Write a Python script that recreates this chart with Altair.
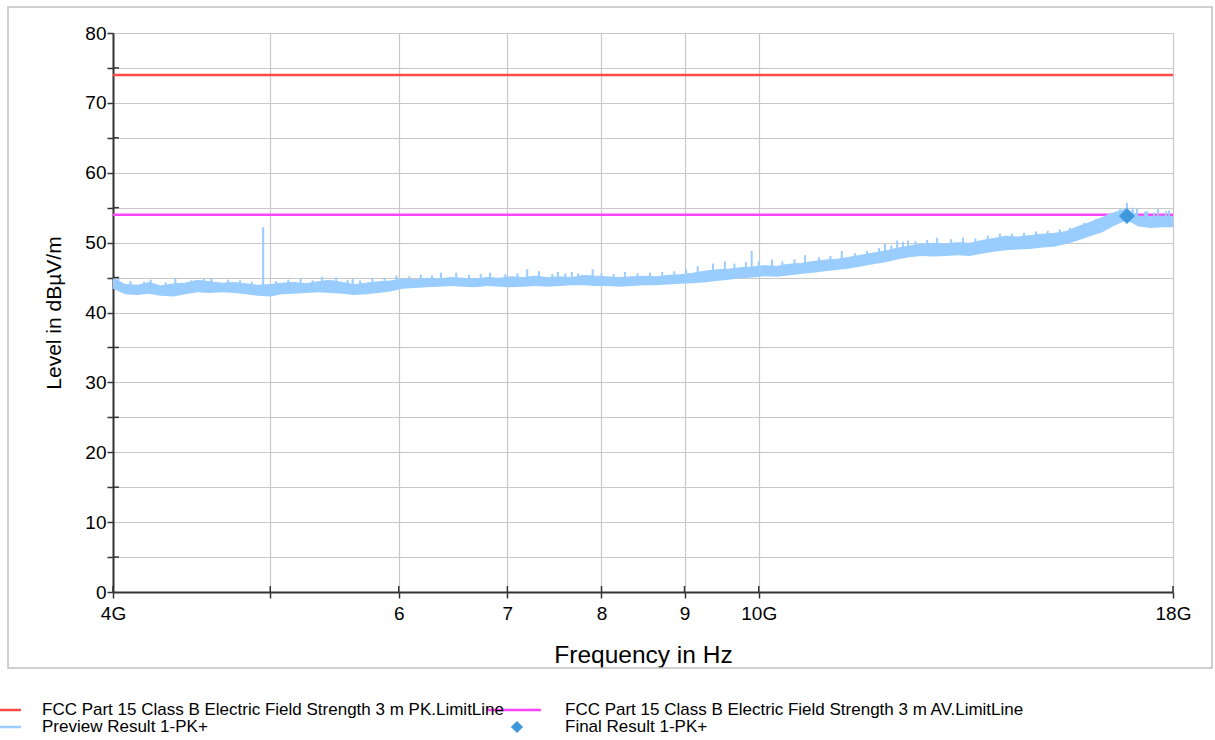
import altair as alt
import pandas as pd

# ---- data ----
freq_ghz = [4.00, 4.07, 4.14, 4.21, 4.28, 4.36, 4.43, 4.51, 4.59, 4.67, 4.75, 4.83, 4.91,
            5.00, 5.08, 5.17, 5.26, 5.35, 5.44, 5.54, 5.63, 5.73, 5.83, 5.93, 6.03, 6.14,
            6.24, 6.35, 6.46, 6.57, 6.69, 6.80, 6.92, 7.04, 7.16, 7.28, 7.41, 7.54, 7.67,
            7.80, 7.93, 8.07, 8.21, 8.35, 8.50, 8.64, 8.79, 8.94, 9.10, 9.25, 9.41, 9.58,
            9.74, 9.91, 10.08, 10.25, 10.43, 10.61, 10.80, 10.98, 11.17, 11.37, 11.56,
            11.76, 11.97, 12.17, 12.38, 12.60, 12.81, 13.03, 13.26, 13.49, 13.72, 13.96,
            14.20, 14.44, 14.69, 14.95, 15.20, 15.47, 15.73, 16.00, 16.28, 16.56, 16.85,
            17.14, 17.44, 17.74, 18.00]
preview_hi = [44.9, 44.0, 43.9, 44.3, 43.8, 44.1, 44.2, 44.6, 44.4, 44.2, 44.3, 44.1, 43.9,
              44.0, 44.2, 44.3, 44.1, 44.4, 44.6, 44.3, 44.0, 44.2, 44.4, 44.5, 44.8, 44.7,
              44.9, 44.8, 45.0, 44.9, 44.8, 45.0, 44.9, 45.1, 45.0, 45.2, 45.0, 45.1, 45.0,
              45.3, 45.2, 45.1, 45.0, 45.1, 45.2, 45.1, 45.3, 45.4, 45.6, 45.9, 46.1, 46.2,
              46.4, 46.5, 46.7, 46.6, 46.9, 47.0, 47.3, 47.5, 47.6, 47.9, 48.2,
              48.5, 48.8, 49.2, 49.5, 49.8, 49.9, 49.8, 50.0, 49.9, 50.3, 50.6,
              50.9, 50.8, 51.0, 51.2, 51.3, 51.6, 52.3, 52.9, 53.6, 54.3, 54.8,
              53.8, 53.7, 53.8, 53.7]
preview_lo = [43.4, 42.6, 42.5, 42.7, 42.4, 42.3, 42.6, 42.9, 42.8, 42.9, 42.8, 42.6, 42.4,
              42.3, 42.6, 42.7, 42.8, 42.9, 42.8, 42.7, 42.5, 42.6, 42.8, 43.0, 43.4, 43.5,
              43.6, 43.7, 43.8, 43.7, 43.6, 43.8, 43.7, 43.6, 43.7, 43.8, 43.7, 43.8, 43.9,
              43.9, 43.8, 43.8, 43.7, 43.8, 43.9, 43.9, 44.0, 44.1, 44.2, 44.3, 44.5, 44.7,
              44.9, 45.0, 45.2, 45.1, 45.3, 45.5, 45.7, 45.9, 46.1, 46.3, 46.6,
              46.9, 47.2, 47.6, 47.9, 48.1, 48.0, 48.1, 48.2, 48.1, 48.4, 48.7,
              48.9, 49.0, 49.1, 49.3, 49.4, 49.8, 50.3, 50.9, 51.5, 52.4, 53.2,
              52.3, 52.1, 52.2, 52.2]

# narrow peaks standing above the noise band
spike_freq = [4.03, 4.10, 4.18, 4.22, 4.31, 4.37, 4.47, 4.55, 4.60, 4.71, 4.79, 4.87, 4.95,
              5.04, 5.13, 5.22, 5.31, 5.38, 5.49, 5.58, 5.62, 5.68, 5.78, 5.88, 5.98, 6.09,
              6.19, 6.29, 6.37, 6.51, 6.63, 6.74, 6.83, 6.98, 7.10, 7.20, 7.32, 7.46, 7.52,
              7.60, 7.67, 7.74, 7.90, 8.00, 8.14, 8.27, 8.42, 8.57, 8.72, 8.87, 9.02, 9.17,
              9.37, 9.53, 9.66, 9.82, 9.90, 10.00, 10.19, 10.34, 10.52, 10.68, 10.89, 11.07,
              11.25, 11.46, 11.66, 11.86, 11.96, 12.07, 12.17, 12.27, 12.36, 12.49, 12.70,
              12.88, 13.14, 13.36, 13.60, 13.84, 14.08, 14.32, 14.57, 14.82, 15.07, 15.33,
              15.55, 15.86, 16.14, 16.42, 16.70, 16.86, 17.00, 17.10, 17.30, 17.35, 17.52,
              17.62, 17.82, 17.90]
spike_top = [45.1, 44.5, 44.4, 44.7, 44.3, 44.9, 44.6, 44.8, 44.9, 44.7, 44.6, 44.4, 52.2,
             44.5, 44.7, 44.8, 44.6, 45.1, 45.0, 44.7, 44.8, 44.6, 44.9, 44.9, 45.3, 45.2,
             45.4, 45.3, 45.7, 45.7, 45.4, 45.5, 45.7, 45.5, 45.6, 46.2, 45.9, 45.5, 45.8,
             45.6, 45.8, 45.6, 46.2, 45.6, 45.5, 45.8, 45.6, 45.7, 45.8, 45.9, 46.2, 46.6,
             47.0, 47.3, 47.0, 47.2, 48.8, 47.3, 47.6, 47.3, 47.6, 48.2, 47.9, 48.1,
             48.8, 48.5, 48.8, 49.2, 49.8, 49.6, 50.3, 50.1, 50.3, 50.2, 50.4,
             50.7, 50.5, 50.7, 50.6, 51.0, 51.3, 51.3, 51.4, 51.6, 51.7, 51.9,
             52.1, 52.8, 53.4, 54.1, 54.9, 55.7, 55.0, 54.9, 54.4, 54.5, 54.3,
             54.8, 54.5, 54.6]
spike_base = [43.5, 43.0, 43.0, 43.2, 43.0, 43.0, 43.2, 43.5, 43.5, 43.4, 43.4, 43.2, 43.0,
              43.0, 43.2, 43.3, 43.4, 43.5, 43.5, 43.3, 43.2, 43.2, 43.4, 43.6, 43.8, 44.0,
              44.1, 44.2, 44.3, 44.3, 44.2, 44.3, 44.3, 44.3, 44.4, 44.4, 44.4, 44.4, 44.4,
              44.4, 44.5, 44.5, 44.5, 44.4, 44.4, 44.4, 44.5, 44.5, 44.6, 44.7, 44.9, 45.0,
              45.3, 45.5, 45.6, 45.7, 45.8, 45.9, 46.0, 46.0, 46.2, 46.4, 46.6, 46.8,
              47.0, 47.3, 47.6, 47.9, 48.1, 48.3, 48.5, 48.7, 48.9, 49.0, 49.0,
              49.0, 49.0, 49.0, 49.2, 49.6, 49.9, 50.0, 50.1, 50.3, 50.4, 50.5,
              50.8, 51.5, 52.2, 52.9, 53.8, 54.0, 53.5, 53.2, 53.0, 53.0, 53.0,
              53.0, 53.0, 53.0]

limit_freq = [4, 18]
pk_limit = [74, 74]
av_limit = [54, 54]

final_freq = [16.86]
final_level = [53.8]

x_ticks = [4, 5, 6, 7, 8, 9, 10, 18]
y_ticks = list(range(0, 85, 5))
y_minor = [5, 15, 25, 35, 45, 55, 65, 75]

legend_labels = ["FCC Part 15 Class B Electric Field Strength 3 m PK.LimitLine",
                 "FCC Part 15 Class B Electric Field Strength 3 m AV.LimitLine",
                 "Preview Result 1-PK+",
                 "Final Result 1-PK+"]

# ---- styling ----
RED = "#FF4848"
MAG = "#FF44FF"
LBLUE = "#99CCFF"
DBLUE = "#3F98DC"
FONT = "Liberation Sans"
W, H = 1060, 559

xs = alt.Scale(type="log", domain=[4, 18], nice=False, zero=False)
ys = alt.Scale(domain=[0, 80], nice=False, zero=False)

xaxis = alt.Axis(values=x_ticks,
                 labelExpr="datum.value == 4 ? '4G' : datum.value == 10 ? '10G' : datum.value == 18 ? '18G' : datum.value == 5 ? '' : format(datum.value, 'd')",
                 title="Frequency in Hz", titleFontSize=24.5, titleFontWeight="normal",
                 titleColor="black", titleFont=FONT, titlePadding=20,
                 labelFontSize=19, labelFont=FONT, labelColor="black", labelPadding=6,
                 labelFlush=False, labelOverlap=False,
                 domainColor="#333333", domainWidth=2, tickColor="#333333", tickWidth=1.5,
                 tickSize=6, grid=True, gridColor="#C8C8C8", gridWidth=1.2)
yaxis = alt.Axis(values=y_ticks,
                 labelExpr="datum.value % 10 == 0 ? format(datum.value, 'd') : ''",
                 title="Level in dBµV/m", titleFontSize=21, titleFontWeight="normal",
                 titleColor="black", titleFont=FONT, titlePadding=20,
                 labelFontSize=19, labelFont=FONT, labelColor="black", labelPadding=1,
                 labelOverlap=False, labelFlush=False,
                 domainColor="#333333", domainWidth=2, tickColor="#333333", tickWidth=1.5,
                 tickSize=6, grid=True, gridColor="#C8C8C8", gridWidth=1.2)

X = alt.X("f:Q", scale=xs, axis=xaxis)
Y = alt.Y("hi:Q", scale=ys, axis=yaxis)
Ylev = alt.Y("level:Q", scale=ys, axis=yaxis)

band_df = pd.DataFrame({"f": freq_ghz, "hi": preview_hi, "lo": preview_lo})
spike_df = pd.DataFrame({"f": spike_freq, "hi": spike_top, "lo": spike_base})
pk_df = pd.DataFrame({"f": limit_freq, "level": pk_limit})
av_df = pd.DataFrame({"f": limit_freq, "level": av_limit})
final_df = pd.DataFrame({"f": final_freq, "level": final_level})
xt_df = pd.DataFrame({"f": x_ticks})
ym_df = pd.DataFrame({"level": y_minor})

one = alt.Data(values=[{}])

frame = alt.Chart(one).mark_rect(fillOpacity=0, stroke="#C0C0C0", strokeWidth=1.5).encode(
    x=alt.value(-105), x2=alt.value(1099), y=alt.value(-26), y2=alt.value(635))

pk = alt.Chart(pk_df).mark_line(color=RED, strokeWidth=2.5).encode(x=X, y=Ylev)
av = alt.Chart(av_df).mark_line(color=MAG, strokeWidth=2.5).encode(x=X, y=Ylev)
band = alt.Chart(band_df).mark_area(color=LBLUE, opacity=1,
                                    line={"color": LBLUE, "strokeWidth": 1}).encode(
    x=X, y=Y, y2="lo:Q")
spikes = alt.Chart(spike_df).mark_rule(color=LBLUE, strokeWidth=2).encode(x=X, y=Y, y2="lo:Q")
final = alt.Chart(final_df).mark_point(shape="diamond", filled=True, color=DBLUE, size=256, opacity=1).encode(
    x=X, y=Ylev)

xin = alt.Chart(xt_df).mark_rule(color="#333333", strokeWidth=1.5).encode(
    x=X, y=alt.value(H), y2=alt.value(H - 6))
yin = alt.Chart(ym_df).mark_rule(color="#333333", strokeWidth=1.5).encode(
    y=Ylev, x=alt.value(0), x2=alt.value(6))

# legend (drawn manually below the frame)
LX1, LX2 = -71, 452
LY1, LY2 = 677, 694
def leg_text(txt, x, y):
    return alt.Chart(one).mark_text(align="left", baseline="middle", font=FONT, fontSize=17,
                                    color="black").encode(x=alt.value(x), y=alt.value(y), text=alt.value(txt))
def leg_line(color, x1, x2, y):
    return alt.Chart(one).mark_rule(color=color, strokeWidth=2.5).encode(
        x=alt.value(x1), x2=alt.value(x2), y=alt.value(y))

legend = [
    leg_line(RED, -113, -92, LY1),
    leg_line(LBLUE, -113, -92, LY2),
    leg_line(MAG, 374, 428, LY1),
    alt.Chart(one).mark_point(shape="diamond", filled=True, color=DBLUE, size=150, opacity=1).encode(
        x=alt.value(404), y=alt.value(LY2)),
    leg_text(legend_labels[0], LX1, LY1),
    leg_text(legend_labels[2], LX1, LY2),
    leg_text(legend_labels[1], LX2, LY1),
    leg_text(legend_labels[3], LX2, LY2),
]

chart = alt.layer(frame, pk, av, band, spikes, final, xin, yin, *legend).properties(
    width=W, height=H,
    autosize=alt.AutoSizeParams(type="none"),
    padding={"left": 113, "top": 33, "right": 42, "bottom": 146},
).configure_view(stroke=None).configure(font=FONT)

chart.save("out.html", embed_options={"renderer": "svg", "actions": False})
